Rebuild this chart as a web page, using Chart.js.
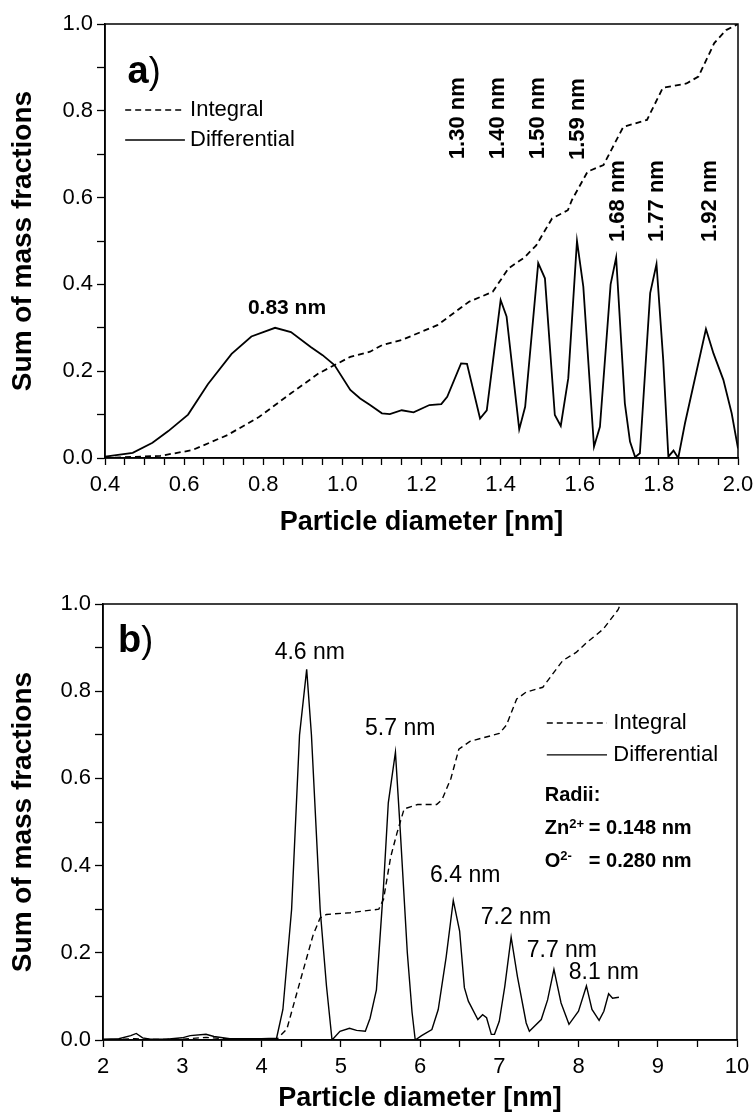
<!DOCTYPE html>
<html>
<head>
<meta charset="utf-8">
<title>Mass fractions vs particle diameter</title>
<script src="https://cdn.jsdelivr.net/npm/chart.js@4.4.1/dist/chart.umd.min.js"></script>
<style>
  body { margin: 0; background: #fff; }
  #wrap { position: relative; width: 755px; height: 1119px; }
  canvas { position: absolute; left: 0; }
  #chartA { top: 0; }
  #chartB { top: 560px; }
</style>
</head>
<body>
<div id="wrap">
  <canvas id="chartA" width="755" height="560"></canvas>
  <canvas id="chartB" width="755" height="559"></canvas>
</div>
<script>
/* =========================================================
   DATA
========================================================= */

// panel a) - differential curve
const diamDiffA = [0.40, 0.47, 0.52, 0.56, 0.61, 0.66, 0.72, 0.77, 0.83, 0.87, 0.92, 0.95, 0.98,
  1.02, 1.045, 1.07, 1.10, 1.12, 1.15, 1.18, 1.22, 1.25, 1.265, 1.30, 1.315, 1.348, 1.365,
  1.40, 1.415, 1.447, 1.462, 1.495, 1.512, 1.537, 1.552, 1.571, 1.593, 1.609, 1.636, 1.651,
  1.678, 1.692, 1.714, 1.727, 1.740, 1.752, 1.778, 1.794, 1.811, 1.824, 1.837, 1.849, 1.866,
  1.919, 1.938, 1.963, 1.984, 2.00];
const diffA = [0.003, 0.012, 0.035, 0.062, 0.10, 0.17, 0.24, 0.28, 0.30, 0.29, 0.256, 0.237, 0.214,
  0.157, 0.137, 0.122, 0.103, 0.101, 0.11, 0.105, 0.122, 0.124, 0.141, 0.218, 0.217, 0.091, 0.11,
  0.364, 0.326, 0.066, 0.118, 0.449, 0.414, 0.099, 0.074, 0.184, 0.50, 0.395, 0.026, 0.072,
  0.40, 0.462, 0.126, 0.038, 0.002, 0.011, 0.38, 0.447, 0.226, 0.003, 0.017, 0.0, 0.08,
  0.297, 0.241, 0.18, 0.103, 0.022];

// panel a) - integral curve
const diamIntA = [0.40, 0.54, 0.62, 0.71, 0.79, 0.87, 0.94, 1.02, 1.07, 1.10, 1.15, 1.24, 1.32,
  1.38, 1.42, 1.46, 1.49, 1.53, 1.57, 1.58, 1.62, 1.66, 1.71, 1.77, 1.81, 1.87, 1.90, 1.94,
  1.97, 2.00];
const intA = [0.0, 0.005, 0.018, 0.053, 0.095, 0.149, 0.195, 0.233, 0.245, 0.26, 0.272, 0.306, 0.36,
  0.383, 0.437, 0.462, 0.49, 0.552, 0.571, 0.594, 0.66, 0.675, 0.763, 0.779, 0.853, 0.863, 0.879, 0.956,
  0.986, 1.0];

// panel b) - differential curve
const diamDiffB = [2.00, 2.20, 2.35, 2.42, 2.50, 2.60, 2.80, 3.00, 3.10, 3.30, 3.40, 3.60, 4.00,
  4.19, 4.27, 4.38, 4.48, 4.57, 4.63, 4.74, 4.82, 4.89, 4.99, 5.11, 5.20, 5.31, 5.37, 5.45,
  5.54, 5.60, 5.69, 5.75, 5.84, 5.90, 5.94, 6.02, 6.15, 6.23, 6.33, 6.42, 6.50, 6.56, 6.61,
  6.73, 6.79, 6.84, 6.90, 6.94, 7.00, 7.07, 7.15, 7.23, 7.34, 7.38, 7.53, 7.61, 7.69, 7.78,
  7.88, 8.00, 8.10, 8.17, 8.26, 8.32, 8.38, 8.43, 8.51];
const diffB = [0.002, 0.003, 0.010, 0.015, 0.005, 0.002, 0.002, 0.005, 0.010, 0.013, 0.008, 0.003, 0.003,
  0.004, 0.07, 0.30, 0.70, 0.85, 0.70, 0.30, 0.124, 0.0, 0.02, 0.027, 0.022, 0.02, 0.05, 0.115,
  0.353, 0.544, 0.66, 0.483, 0.20, 0.063, 0.0, 0.01, 0.024, 0.07, 0.19, 0.32, 0.25, 0.12, 0.089,
  0.047, 0.058, 0.051, 0.013, 0.013, 0.043, 0.123, 0.236, 0.145, 0.039, 0.02, 0.047, 0.092, 0.162, 0.085,
  0.036, 0.066, 0.124, 0.07, 0.045, 0.066, 0.106, 0.096, 0.098];

// panel b) - integral curve
const diamIntB = [2.0, 2.4, 2.6, 3.0, 3.3, 3.6, 4.2, 4.32, 4.48, 4.65, 4.74, 4.82, 5.12, 5.48, 5.54,
  5.63, 5.71, 5.80, 5.97, 6.21, 6.28, 6.39, 6.49, 6.63, 7.00, 7.09, 7.22, 7.34, 7.55, 7.66, 7.80,
  7.97, 8.10, 8.31, 8.50, 8.53];
const intB = [0.0, 0.003, 0.001, 0.002, 0.006, 0.002, 0.003, 0.025, 0.13, 0.24, 0.28, 0.288, 0.292, 0.30, 0.323,
  0.42, 0.475, 0.53, 0.54, 0.54, 0.552, 0.60, 0.667, 0.685, 0.703, 0.722, 0.782, 0.798, 0.809, 0.836, 0.87,
  0.889, 0.911, 0.942, 0.987, 1.0];

// tick labels
const yTickLabels = ["0.0", "0.2", "0.4", "0.6", "0.8", "1.0"];
const xTickLabelsA = ["0.4", "0.6", "0.8", "1.0", "1.2", "1.4", "1.6", "1.8", "2.0"];
const xTickLabelsB = ["2", "3", "4", "5", "6", "7", "8", "9", "10"];

// peak labels
const peakLabelsA = ["1.30 nm", "1.40 nm", "1.50 nm", "1.59 nm", "1.68 nm", "1.77 nm", "1.92 nm"];
const peakLabelsB = ["4.6 nm", "5.7 nm", "6.4 nm", "7.2 nm", "7.7 nm", "8.1 nm"];

/* =========================================================
   HELPERS
========================================================= */

const FAMILY = "'Liberation Sans', Arial, Helvetica, sans-serif";
const font = (size, bold) => (bold ? "bold " : "") + size + "px " + FAMILY;

function toPoints(xs, ys) {
  return xs.map((v, i) => ({ x: v, y: ys[i] }));
}

/* -------- text / legend annotations, placed in data units -------- */

const annotate = {
  id: "annotate",
  afterDatasetsDraw(chart, args, opts) {
    const { ctx, scales: { x, y } } = chart;
    ctx.save();
    ctx.fillStyle = "#000";
    ctx.strokeStyle = "#000";

    (opts.lines || []).forEach(l => {
      ctx.lineWidth = l.width;
      ctx.setLineDash(l.dash || []);
      ctx.beginPath();
      ctx.moveTo(x.getPixelForValue(l.x0), y.getPixelForValue(l.y));
      ctx.lineTo(x.getPixelForValue(l.x1), y.getPixelForValue(l.y));
      ctx.stroke();
    });
    ctx.setLineDash([]);

    (opts.texts || []).forEach(t => {
      ctx.save();
      ctx.translate(x.getPixelForValue(t.x), y.getPixelForValue(t.y));
      if (t.rot) ctx.rotate(t.rot);
      ctx.textBaseline = t.baseline || "middle";
      if (t.parts) {
        // several runs drawn one after the other, left aligned
        ctx.textAlign = "left";
        let cx = 0;
        t.parts.forEach(p => {
          ctx.font = p.font;
          ctx.fillText(p.text, cx, p.dy || 0);
          cx += ctx.measureText(p.text).width;
        });
      } else {
        ctx.font = t.font;
        ctx.textAlign = t.align || "center";
        ctx.fillText(t.text, 0, 0);
      }
      ctx.restore();
    });
    ctx.restore();
  }
};

/* -------- box round the plot area -------- */

const frame = {
  id: "frame",
  afterDatasetsDraw(chart) {
    const { ctx, chartArea: a } = chart;
    ctx.save();
    ctx.strokeStyle = "#000";
    ctx.lineWidth = 1.5;
    ctx.strokeRect(a.left, a.top, a.right - a.left, a.bottom - a.top);
    ctx.restore();
  }
};

/* =========================================================
   CHART FACTORY
========================================================= */

function makeChart(canvasId, cfg) {
  const tickFont = { family: FAMILY, size: 22 };

  return new Chart(document.getElementById(canvasId), {
    type: "line",
    data: {
      datasets: [
        {
          label: "Integral",
          data: toPoints(cfg.intX, cfg.intY),
          borderColor: "#000",
          borderWidth: cfg.lineWidth,
          borderDash: [6, 4],
          pointRadius: 0,
          tension: 0,
          fill: false
        },
        {
          label: "Differential",
          data: toPoints(cfg.diffX, cfg.diffY),
          borderColor: "#000",
          borderWidth: cfg.lineWidth,
          pointRadius: 0,
          tension: 0,
          fill: false
        }
      ]
    },
    options: {
      responsive: false,
      animation: false,
      events: [],
      layout: { padding: { top: cfg.padTop, right: cfg.padRight, left: 0, bottom: 0 } },
      scales: {
        x: {
          type: "linear",
          min: cfg.xMin,
          max: cfg.xMax,
          border: { color: "#000", width: 1.5 },
          grid: { drawOnChartArea: false, color: "#000", tickLength: 7, tickWidth: 1.3 },
          ticks: {
            stepSize: cfg.xStep,
            autoSkip: false,
            maxRotation: 0,
            color: "#000",
            font: tickFont,
            padding: 7,
            callback: cfg.xLabel
          },
          title: {
            display: true,
            text: "Particle diameter [nm]",
            color: "#000",
            font: { family: FAMILY, size: 27, weight: "bold" },
            padding: { top: 0, bottom: cfg.xTitlePad }
          },
          afterFit(s) {
            s.height = cfg.xAxisHeight;
            s.paddingLeft = 0;
            s.paddingRight = 0;
          }
        },
        y: {
          min: 0,
          max: 1,
          border: { color: "#000", width: 1.5 },
          grid: { drawOnChartArea: false, color: "#000", tickLength: 8, tickWidth: 1.3 },
          ticks: {
            stepSize: 0.1,
            autoSkip: false,
            color: "#000",
            font: tickFont,
            padding: 4,
            callback: v => {
              const s = v.toFixed(1);
              return yTickLabels.includes(s) ? s : "";
            }
          },
          title: {
            display: true,
            text: "Sum of mass fractions",
            color: "#000",
            font: { family: FAMILY, size: 28, weight: "bold" },
            padding: { top: 6, bottom: 0 }
          },
          afterFit(s) {
            s.width = cfg.yAxisWidth;
            s.paddingTop = 0;
            s.paddingBottom = 0;
          }
        }
      },
      plugins: {
        legend: { display: false },
        tooltip: { enabled: false },
        annotate: cfg.annotations
      }
    },
    plugins: [frame, annotate]
  });
}

/* =========================================================
   PANEL a)
========================================================= */

const rotA = -Math.PI / 2;
const peakPosA = [1.292, 1.393, 1.494, 1.596, 1.697, 1.795, 1.929];
const peakYA = [0.783, 0.783, 0.783, 0.781, 0.592, 0.592, 0.592];

makeChart("chartA", {
  diffX: diamDiffA, diffY: diffA, intX: diamIntA, intY: intA,
  lineWidth: 1.8,
  xMin: 0.4, xMax: 2.0, xStep: 0.05,
  xLabel: v => {
    const s = v.toFixed(1);
    return Math.abs(v * 10 - Math.round(v * 10)) < 1e-6 && xTickLabelsA.includes(s) ? s : "";
  },
  padTop: 24, padRight: 17,
  yAxisWidth: 105, xAxisHeight: 102, xTitlePad: 21,
  annotations: {
    lines: [
      { x0: 0.451, x1: 0.602, y: 0.802, width: 1.5, dash: [6, 4] },
      { x0: 0.451, x1: 0.602, y: 0.733, width: 1.5 }
    ],
    texts: [
      { x: 0.457, y: 0.864, baseline: "alphabetic",
        parts: [{ text: "a", font: font(38, true) }, { text: ")", font: font(36, false) }] },
      { x: 0.615, y: 0.802, text: "Integral", font: font(22), align: "left" },
      { x: 0.615, y: 0.733, text: "Differential", font: font(22), align: "left" },
      { x: 0.86, y: 0.346, text: "0.83 nm", font: font(21, true) }
    ].concat(peakLabelsA.map((t, i) => ({
      x: peakPosA[i], y: peakYA[i], text: t, font: font(22, true), rot: rotA
    })))
  }
});

/* =========================================================
   PANEL b)
========================================================= */

const peakPosB = [4.61, 5.75, 6.57, 7.21, 7.79, 8.32];
const peakYB = [0.888, 0.713, 0.378, 0.28, 0.206, 0.154];

makeChart("chartB", {
  diffX: diamDiffB, diffY: diffB, intX: diamIntB, intY: intB,
  lineWidth: 1.4,
  xMin: 2, xMax: 10, xStep: 0.5,
  xLabel: v => (xTickLabelsB.includes(String(v)) ? String(v) : ""),
  padTop: 44, padRight: 18,
  yAxisWidth: 103, xAxisHeight: 79, xTitlePad: 4,
  annotations: {
    lines: [
      { x0: 7.6, x1: 8.36, y: 0.727, width: 1.4, dash: [6, 4] },
      { x0: 7.6, x1: 8.36, y: 0.654, width: 1.4 }
    ],
    texts: [
      { x: 2.19, y: 0.89, baseline: "alphabetic",
        parts: [{ text: "b", font: font(38, true) }, { text: ")", font: font(36, false) }] },
      { x: 8.44, y: 0.727, text: "Integral", font: font(22), align: "left" },
      { x: 8.44, y: 0.654, text: "Differential", font: font(22), align: "left" },
      { x: 7.574, y: 0.56, text: "Radii:", font: font(20, true), align: "left" },
      { x: 7.574, y: 0.484, parts: [
        { text: "Zn", font: font(20, true) },
        { text: "2+", font: font(13, true), dy: -5 }
      ] },
      { x: 8.13, y: 0.484, text: "= 0.148 nm", font: font(20, true), align: "left" },
      { x: 7.574, y: 0.41, parts: [
        { text: "O", font: font(20, true) },
        { text: "2-", font: font(13, true), dy: -5 }
      ] },
      { x: 8.13, y: 0.41, text: "= 0.280 nm", font: font(20, true), align: "left" }
    ].concat(peakLabelsB.map((t, i) => ({
      x: peakPosB[i], y: peakYB[i], text: t, font: font(23)
    })))
  }
});
</script>
</body>
</html>
